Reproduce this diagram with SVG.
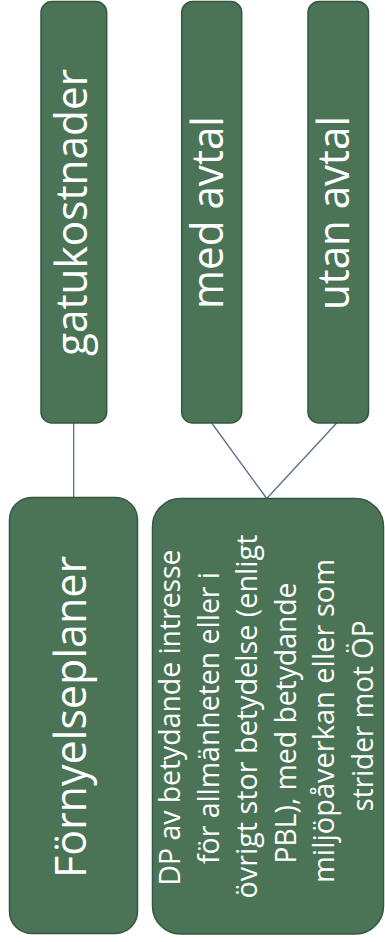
<svg xmlns="http://www.w3.org/2000/svg" width="385" height="942" viewBox="0 0 385 942">
<style>
.box{fill:#4b7457;stroke:#355640;stroke-width:1.5}
.lbl{font-family:"Open Sans","Noto Sans",sans-serif;fill:#ffffff;text-anchor:middle}
.big{font-size:43px}
.small{font-size:29px}
.conn{stroke:#566f8c;stroke-width:1.3;fill:none}
</style>
<rect width="385" height="942" fill="#ffffff"/>
<g id="connectors">
<line class="conn" x1="73.7" y1="423" x2="73.7" y2="497.5"/>
<line class="conn" x1="211.7" y1="423" x2="266.7" y2="498.5"/>
<line class="conn" x1="336.7" y1="423" x2="266.7" y2="498.5"/>
</g>
<g id="node-gatukostnader">
<rect class="box" x="41" y="1.5" width="65.7" height="421.5" rx="11"/>
<text class="lbl big" transform="translate(87,212.5) rotate(-90)" textLength="287" lengthAdjust="spacingAndGlyphs">gatukostnader</text>
</g>
<g id="node-med-avtal">
<rect class="box" x="181.7" y="1.5" width="60" height="421.5" rx="11"/>
<text class="lbl big" transform="translate(223,212.5) rotate(-90)" textLength="193" lengthAdjust="spacingAndGlyphs">med avtal</text>
</g>
<g id="node-utan-avtal">
<rect class="box" x="308" y="1.5" width="60.5" height="421.5" rx="11"/>
<text class="lbl big" transform="translate(349,213) rotate(-90)" textLength="194" lengthAdjust="spacingAndGlyphs">utan avtal</text>
</g>
<g id="node-fornyelseplaner">
<rect class="box" x="9.5" y="497.5" width="128" height="436" rx="22"/>
<text class="lbl big" transform="translate(86,717) rotate(-90)" textLength="322" lengthAdjust="spacingAndGlyphs">Förnyelseplaner</text>
</g>
<g id="node-dp">
<rect class="box" x="152.5" y="498.5" width="231" height="435.5" rx="28"/>
<g transform="translate(0,717) rotate(-90)">
<text class="lbl small" x="-0.5" y="180" textLength="336" lengthAdjust="spacingAndGlyphs">DP av betydande intresse</text>
<text class="lbl small" x="-1" y="218.6" textLength="292" lengthAdjust="spacingAndGlyphs">för allmänheten eller i</text>
<text class="lbl small" x="0.5" y="257.2" textLength="364" lengthAdjust="spacingAndGlyphs">övrigt stor betydelse (enligt</text>
<text class="lbl small" x="-6" y="295.8" textLength="281" lengthAdjust="spacingAndGlyphs">PBL), med betydande</text>
<text class="lbl small" x="-4" y="334.4" textLength="324" lengthAdjust="spacingAndGlyphs">miljöpåverkan eller som</text>
<text class="lbl small" x="1" y="373" textLength="191" lengthAdjust="spacingAndGlyphs">strider mot ÖP</text>
</g>
</g>
</svg>
